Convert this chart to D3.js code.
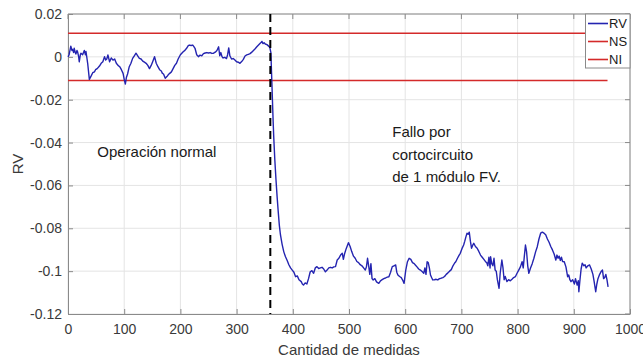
<!DOCTYPE html>
<html>
<head>
<meta charset="utf-8">
<script src="https://cdn.jsdelivr.net/npm/d3@7/dist/d3.min.js"></script>
<style>
  html, body { margin: 0; padding: 0; background: #fff; }
  svg { display: block; font-family: "Liberation Sans", Arial, sans-serif; }
</style>
</head>
<body>
<svg id="chart" width="643" height="360"></svg>
<script>
// RV indicator over the measurement index
const rvIndex = [0,2,5,7,8,10,11,13,14,16,17,19,20,22,23,26,29,31,32,35,38,41,44,47,49,52,56,59,62,65,67,69,71,74,77,80,83,86,89,92,95,98,100,102,104,106,109,112,115,118,121,124,127,130,133,136,139,142,145,148,151,154,157,160,163,166,168,170,173,176,178,181,184,187,190,193,196,200,205,208,211,214,216,219,222,224,226,229,232,235,238,241,244,247,250,253,256,259,262,265,268,270,272,274,276,279,282,284,286,288,291,294,297,300,303,306,309,312,315,318,321,324,327,330,333,336,339,342,344,345,347,349,351,354,357,359,360,
  361,362,363,364,365,366,368,370,372,374,376,378,381,384,387,390,393,396,399,402,405,408,411,415,417,419,422,425,428,431,434,437,440,443,446,449,452,455,458,461,464,467,470,473,476,479,482,485,488,490,492,495,499,502,505,508,511,514,517,520,523,526,529,531,533,535,537,539,541,543,546,549,553,556,559,562,565,568,571,574,577,580,583,585,587,590,593,596,598,601,604,607,610,613,616,618,621,624,627,630,633,635,637,639,641,643,645,647,649,652,655,658,661,664,667,670,673,676,679,682,685,688,690,693,696,698,701,704,706,708,710,712,714,716,718,720,722,725,728,731,734,737,740,743,745,747,749,751,752,754,756,758,760,762,764,767,769,772,774,776,778,781,784,787,790,793,796,799,802,805,808,810,812,814,816,818,820,823,826,829,832,835,838,841,844,847,850,853,856,859,862,865,868,870,872,874,876,878,880,883,886,889,891,893,895,898,901,903,906,908,909,911,913,915,918,920,922,925,928,931,934,936,939,941,943,946,949,951,953,955,957,959,961];

const rvValue = [0.000,0.001,0.005,0.003,0.0035,0.002,0.004,0.002,0.0013,0.003,0.0024,0.000,-0.0023,0.001,0.0017,0.001,0.003,0.001,0.0025,-0.003,-0.0105,-0.009,-0.0074,-0.007,-0.006,-0.0055,-0.0043,-0.003,-0.0023,0.0001,-0.0015,-0.001,0.0009,-0.0023,-0.0005,-0.0015,-0.001,-0.003,-0.004,-0.0046,-0.006,-0.0077,-0.0105,-0.0127,-0.0095,-0.008,-0.0046,-0.003,-0.0007,0.0005,0.0017,0.0005,-0.0007,-0.001,-0.002,-0.0025,-0.003,-0.004,-0.0055,-0.004,-0.002,0.0001,-0.003,-0.0046,-0.006,-0.0066,-0.0077,-0.008,-0.01,-0.0092,-0.0085,-0.0077,-0.007,-0.0055,-0.004,-0.003,-0.001,0.001,0.0024,0.003,0.004,0.0052,0.0055,0.0053,0.0055,0.0048,0.004,0.001,0.0001,0.0008,0.0005,0.0015,0.0018,0.002,0.0018,0.002,0.0016,0.0017,0.0022,0.003,0.0047,0.0005,0.002,0.0001,-0.0005,-0.0002,-0.0008,0.001,0.0042,0.0005,-0.001,-0.0008,-0.0015,-0.0023,-0.0025,-0.003,-0.0022,-0.0012,0.0004,0.0009,0.0012,0.0015,0.0022,0.003,0.0038,0.0047,0.0055,0.0063,0.0068,0.0072,0.0062,0.0066,0.006,0.0057,0.005,0.0045,0.0032,
  0.002,-0.006,-0.014,-0.022,-0.03,-0.037,-0.048,-0.057,-0.065,-0.072,-0.0785,-0.083,-0.0875,-0.091,-0.0933,-0.095,-0.097,-0.0985,-0.0995,-0.1005,-0.1026,-0.1022,-0.104,-0.1049,-0.106,-0.1065,-0.1055,-0.106,-0.1035,-0.1003,-0.0998,-0.101,-0.0985,-0.0979,-0.0988,-0.0985,-0.0982,-0.099,-0.1003,-0.0995,-0.0985,-0.0982,-0.0985,-0.098,-0.0979,-0.0948,-0.094,-0.0925,-0.0917,-0.0945,-0.092,-0.0895,-0.0867,-0.0885,-0.091,-0.093,-0.094,-0.0955,-0.096,-0.097,-0.0975,-0.0985,-0.0995,-0.098,-0.094,-0.0975,-0.1015,-0.0965,-0.1035,-0.1041,-0.1035,-0.105,-0.1057,-0.1045,-0.104,-0.1035,-0.1032,-0.1028,-0.1026,-0.1005,-0.0979,-0.0975,-0.0971,-0.1005,-0.1018,-0.1025,-0.103,-0.1045,-0.1057,-0.0995,-0.0956,-0.094,-0.0945,-0.096,-0.0965,-0.0971,-0.098,-0.099,-0.0995,-0.1002,-0.101,-0.0985,-0.1015,-0.0956,-0.096,-0.0985,-0.1018,-0.103,-0.1041,-0.104,-0.1038,-0.1041,-0.1035,-0.1033,-0.103,-0.1025,-0.1015,-0.1008,-0.1,-0.0993,-0.0975,-0.0962,-0.0956,-0.094,-0.0925,-0.0917,-0.0895,-0.0878,-0.086,-0.084,-0.0823,-0.0828,-0.0818,-0.086,-0.0893,-0.088,-0.087,-0.0885,-0.0893,-0.0908,-0.0925,-0.0935,-0.0945,-0.0956,-0.096,-0.0975,-0.0935,-0.0985,-0.0933,-0.0965,-0.0975,-0.094,-0.0995,-0.1,-0.104,-0.108,-0.101,-0.0948,-0.0985,-0.104,-0.1025,-0.1049,-0.104,-0.1045,-0.1038,-0.103,-0.1026,-0.101,-0.0995,-0.098,-0.0956,-0.0985,-0.093,-0.0878,-0.091,-0.0975,-0.101,-0.0985,-0.0965,-0.094,-0.091,-0.0886,-0.085,-0.0823,-0.0818,-0.0823,-0.083,-0.085,-0.0865,-0.0885,-0.0901,-0.092,-0.0948,-0.0925,-0.094,-0.093,-0.095,-0.0935,-0.0955,-0.0956,-0.098,-0.1026,-0.1018,-0.104,-0.1049,-0.104,-0.106,-0.1035,-0.1065,-0.1045,-0.1096,-0.104,-0.099,-0.0963,-0.0975,-0.097,-0.0985,-0.0975,-0.0971,-0.099,-0.1015,-0.1045,-0.1096,-0.106,-0.1035,-0.1015,-0.1,-0.0995,-0.1035,-0.103,-0.1015,-0.104,-0.1073];

// Upper (NS) and lower (NI) limits over the same span
const limitSpan = [0, 960];
const nsLevel = 0.011;
const niLevel = -0.011;
const faultAt = 360;

const xTicks = [0,100,200,300,400,500,600,700,800,900,1000];
const yTicks = [0.02,0,-0.02,-0.04,-0.06,-0.08,-0.1,-0.12];
const yTickLabels = ["0.02","0","-0.02","-0.04","-0.06","-0.08","-0.1","-0.12"];
const legendNames = ["RV","NS","NI"];
const legendColors = ["#2424b0","#d42a2a","#d42a2a"];

const svg = d3.select("#chart");
const margin = {left: 68, right: 13, top: 14, bottom: 46};
const W = 643, H = 360;
const x = d3.scaleLinear().domain([0, 1000]).range([margin.left, W - margin.right]);
const y = d3.scaleLinear().domain([-0.12, 0.02]).range([H - margin.bottom, margin.top]);

// grid
const grid = svg.append("g");
grid.selectAll("line.gx").data(xTicks).join("line")
  .attr("x1", d => x(d)).attr("x2", d => x(d))
  .attr("y1", y(-0.12)).attr("y2", y(0.02))
  .attr("stroke", "#e4e4e4").attr("stroke-width", 1);
grid.selectAll("line.gy").data(yTicks).join("line")
  .attr("x1", x(0)).attr("x2", x(1000))
  .attr("y1", d => y(d)).attr("y2", d => y(d))
  .attr("stroke", "#e4e4e4").attr("stroke-width", 1);

// axes with inward ticks
const fmtY = (d, i) => yTickLabels[i];
const xAxis = svg.append("g").attr("transform", `translate(0,${y(-0.12)})`)
  .call(d3.axisBottom(x).tickValues(xTicks).tickSizeInner(-5).tickSizeOuter(0).tickPadding(10).tickFormat(d3.format("d")));
const yAxis = svg.append("g").attr("transform", `translate(${x(0)},0)`)
  .call(d3.axisLeft(y).tickValues(yTicks).tickSizeInner(-5).tickSizeOuter(0).tickPadding(6).tickFormat(fmtY));
[xAxis, yAxis].forEach(g => {
  g.select(".domain").attr("stroke", "#8a8a8a");
  g.selectAll(".tick line").attr("stroke", "#8a8a8a");
  g.selectAll(".tick text").attr("fill", "#3a3a3a").style("font-size", "14px")
    .style("font-family", "'Liberation Sans', Arial, sans-serif");
});
// top and right edges of the box
svg.append("line").attr("x1", x(0)).attr("x2", x(1000)).attr("y1", y(0.02)).attr("y2", y(0.02)).attr("stroke", "#8a8a8a");
svg.append("line").attr("x1", x(1000)).attr("x2", x(1000)).attr("y1", y(0.02)).attr("y2", y(-0.12)).attr("stroke", "#8a8a8a");
svg.selectAll("line.tt").data(xTicks).join("line")
  .attr("x1", d => x(d)).attr("x2", d => x(d)).attr("y1", y(0.02)).attr("y2", y(0.02) + 5).attr("stroke", "#8a8a8a");
svg.selectAll("line.rt").data(yTicks).join("line")
  .attr("x1", x(1000)).attr("x2", x(1000) - 5).attr("y1", d => y(d)).attr("y2", d => y(d)).attr("stroke", "#8a8a8a");

// limit lines
[nsLevel, niLevel].forEach((lv, i) => {
  svg.append("line")
    .attr("x1", x(limitSpan[0])).attr("x2", x(limitSpan[1]))
    .attr("y1", y(lv)).attr("y2", y(lv))
    .attr("stroke", legendColors[i + 1]).attr("stroke-width", 1.6);
});

// RV series
const pts = rvIndex.map((v, i) => [v, rvValue[i]]);
svg.append("path").datum(pts)
  .attr("fill", "none").attr("stroke", legendColors[0]).attr("stroke-width", 1.4)
  .attr("stroke-linejoin", "round")
  .attr("d", d3.line().x(d => x(d[0])).y(d => y(d[1])));

// fault instant
svg.append("line")
  .attr("x1", x(faultAt)).attr("x2", x(faultAt))
  .attr("y1", y(0.02)).attr("y2", y(-0.12))
  .attr("stroke", "#000").attr("stroke-width", 2).attr("stroke-dasharray", "8,5");

// annotations
const note = svg.append("g").attr("fill", "#1a1a1a").style("font-size", "15px");
note.append("text").attr("x", x(52)).attr("y", y(-0.0465)).text("Operación normal");
const fault = ["Fallo por", "cortocircuito", "de 1 módulo FV."];
note.selectAll("text.f").data(fault).join("text")
  .attr("x", x(577)).attr("y", (d, i) => y(-0.0375) + i * 22.5).text(d => d);

// axis titles
svg.append("text").attr("x", (x(0) + x(1000)) / 2).attr("y", 355)
  .attr("text-anchor", "middle").attr("fill", "#3a3a3a").style("font-size", "15px")
  .text("Cantidad de medidas");
svg.append("text").attr("transform", `translate(23,${(y(0.02) + y(-0.12)) / 2}) rotate(-90)`)
  .attr("text-anchor", "middle").attr("fill", "#3a3a3a").style("font-size", "15px")
  .text("RV");

// legend
const lg = svg.append("g");
lg.append("rect").attr("x", 585.5).attr("y", y(0.02)).attr("width", x(1000) - 585.5).attr("height", 54)
  .attr("fill", "#fff").attr("stroke", "#8a8a8a").attr("stroke-width", 1);
legendNames.forEach((n, i) => {
  const yy = y(0.02) + 9.5 + i * 18;
  lg.append("line").attr("x1", 588).attr("x2", 608).attr("y1", yy).attr("y2", yy)
    .attr("stroke", legendColors[i]).attr("stroke-width", 1.6);
  lg.append("text").attr("x", 609).attr("y", yy + 4.5).attr("fill", "#1a1a1a")
    .style("font-size", "13px").text(n);
});
</script>
</body>
</html>
